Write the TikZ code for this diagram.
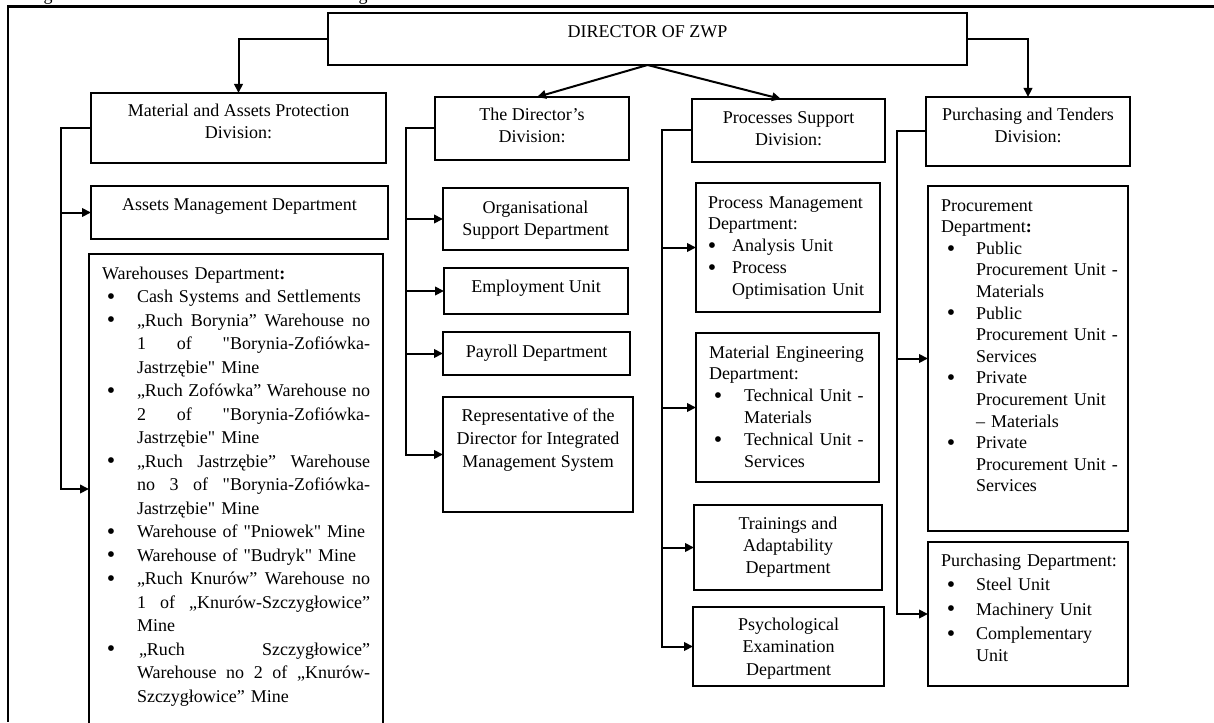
\documentclass[tikz,border=0pt]{standalone}
\usepackage{fontspec}
\setmainfont{Liberation Serif}[Ligatures=TeXOff]
\usetikzlibrary{arrows.meta}

% helpers for the left-aligned bullet lists
\newlength\bpos
\newlength\tpos
\newcommand\bigdot{\raisebox{-1.8pt}{\fontsize{24}{24}\selectfont\textbullet}}
\newcommand\rowhead[1]{\noindent\strut#1\par}
\newcommand\rowitem[1]{\noindent\strut\makebox[\tpos][l]{\hspace*{\bpos}\makebox[0pt]{\bigdot}}#1\par}
\newcommand\rowcont[1]{\noindent\strut\hspace*{\tpos}#1\par}
% a justified line: the word spaces share the free room equally
\newcommand\rowjust[1]{\hbox to 233pt{\spaceskip=\fontdimen2\font plus 1fil\relax #1}}

% box from (x1,y1) to (x2,y2), y measured downwards
\newcommand\mkbox[5]{\node[bx, anchor=north west, minimum width={#4pt-#2pt}, minimum height={#5pt-#3pt}] (#1) at (#2,#3) {};}
% centred label: name, centre x, first baseline, line spacing, text
\newcommand\ctext[5]{\node[lbl=#4, anchor=north] (#1) at (#2,{#3-0.7*#4}) {\strut #5};}
% list label: name, left x, first baseline, line spacing, width, bullet pos, text pos, lines
\newcommand\ltext[8]{\node[lst=#4, text width=#5pt] (#1) at (#2,{#3-0.7*#4}) {\setlength\bpos{#6pt}\setlength\tpos{#7pt}#8};}

\begin{document}
\begin{tikzpicture}[x=1pt,y=-1pt,
  bx/.style={draw=black, line width=1.3pt, inner sep=0pt, outer sep=0pt},
  wire/.style={line width=2pt, line join=miter},
  conn/.style={wire, -{Triangle[length=9pt,width=8.5pt]}},
  lbl/.style={inner sep=0pt, outer sep=0pt, align=center, font=\fontsize{18}{#1}\selectfont},
  lst/.style={inner sep=0pt, outer sep=0pt, anchor=north west, font=\fontsize{18}{#1}\selectfont},
  rule/.style={line width=2.4pt}]
\useasboundingbox (0,0) rectangle (1214,722);

% outer frame and the tails of the line above it
\draw[rule] (1214,6.5) -- (8,6.5) -- (8,722);
\begin{scope}
  \clip (0,0) rectangle (1214,5.3);
  \node[lbl=22, anchor=base] (fragA) at (48,0.2) {g};
  \node[lbl=22, anchor=base] (fragB) at (363,0.2) {g};
\end{scope}

% top level
\mkbox{dir}{328}{13}{967}{65}
\ctext{dirt}{647.5}{38}{22}{DIRECTOR OF ZWP}

% divisions
\mkbox{mat}{91}{93}{386}{163}
\ctext{matt}{238.5}{116.5}{22.5}{Material and Assets Protection\\Division:}
\mkbox{ddiv}{435}{97}{629}{160}
\ctext{ddivt}{532}{121}{22}{The Director’s\\Division:}
\mkbox{psd}{692}{99}{885}{162}
\ctext{psdt}{788.5}{124}{22}{Processes Support\\Division:}
\mkbox{pur}{926}{97}{1130}{166}
\ctext{purt}{1028}{121}{22}{Purchasing and Tenders\\Division:}

% material and assets protection
\mkbox{am}{91}{186}{388}{239}
\ctext{amt}{239.5}{210}{22}{Assets Management Department}
\mkbox{wh}{89}{254}{383}{724}
\ltext{wht}{102}{279}{23.5}{268}{9}{35}{%
  \rowhead{Warehouses Department\textbf{:}}
  \rowitem{Cash Systems and Settlements}
  \rowitem{\rowjust{„Ruch Borynia” Warehouse no}}
  \rowcont{\rowjust{1 of "Borynia-Zofiówka-}}
  \rowcont{Jastrzębie" Mine}
  \rowitem{\rowjust{„Ruch Zofówka” Warehouse no}}
  \rowcont{\rowjust{2 of "Borynia-Zofiówka-}}
  \rowcont{Jastrzębie" Mine}
  \rowitem{\rowjust{„Ruch Jastrzębie” Warehouse}}
  \rowcont{\rowjust{no 3 of "Borynia-Zofiówka-}}
  \rowcont{Jastrzębie" Mine}
  \rowitem{Warehouse of "Pniowek" Mine}
  \rowitem{Warehouse of "Budryk" Mine}
  \rowitem{\rowjust{„Ruch Knurów” Warehouse no}}
  \rowcont{\rowjust{1 of „Knurów-Szczygłowice”}}
  \rowcont{Mine}
  \rowitem{\rowjust{\kern2pt„Ruch Szczygłowice”}}
  \rowcont{\rowjust{Warehouse no 2 of „Knurów-}}
  \rowcont{Szczygłowice” Mine}}

% director's division
\mkbox{org}{443}{188}{628}{250}
\ctext{orgt}{535.5}{213}{22}{Organisational\\Support Department}
\mkbox{emp}{444}{268}{628}{314}
\ctext{empt}{536}{292}{22}{Employment Unit}
\mkbox{pay}{443}{332}{630}{375}
\ctext{payt}{536.5}{357}{22}{Payroll Department}
\mkbox{rep}{443}{397}{633}{512}
\ctext{rept}{538}{421}{23}{Representative of the\\Director for Integrated\\Management System}

% processes support division
\mkbox{pmd}{696}{183}{880}{312}
\ltext{pmdt}{708}{208}{21.8}{168}{4}{24}{%
  \rowhead{Process Management}
  \rowhead{Department:}
  \rowitem{Analysis Unit}
  \rowitem{Process}
  \rowcont{Optimisation Unit}}
\mkbox{med}{696}{333}{879}{482}
\ltext{medt}{709}{358}{21.8}{166}{9}{35}{%
  \rowhead{Material Engineering}
  \rowhead{Department:}
  \rowitem{Technical Unit -}
  \rowcont{Materials}
  \rowitem{Technical Unit -}
  \rowcont{Services}}
\mkbox{tad}{694}{505}{882}{590}
\ctext{tadt}{788}{529}{22}{Trainings and\\Adaptability\\Department}
\mkbox{ped}{693}{607}{884}{686}
\ctext{pedt}{788.5}{630}{22.5}{Psychological\\Examination\\Department}

% purchasing and tenders division
\mkbox{proc}{928}{186}{1128}{531}
\ltext{proct}{941}{211}{21.6}{180}{10}{35}{%
  \rowhead{Procurement}
  \rowhead{Department\textbf{:}}
  \rowitem{Public}
  \rowcont{Procurement Unit -}
  \rowcont{Materials}
  \rowitem{Public}
  \rowcont{Procurement Unit -}
  \rowcont{Services}
  \rowitem{Private}
  \rowcont{Procurement Unit}
  \rowcont{– Materials}
  \rowitem{Private}
  \rowcont{Procurement Unit -}
  \rowcont{Services}}
\mkbox{pdep}{928}{542}{1128}{686}
\ltext{pdept}{941}{566}{24.5}{180}{10}{35}{%
  \rowhead{Purchasing Department:}
  \rowitem{Steel Unit}
  \rowitem{Machinery Unit}
  \rowitem{Complementary}
  \vskip-2.8pt
  \rowcont{Unit}}

% connectors from the director
\draw[conn] (dir.west) -| (mat.north);
\draw[conn] (dir.east) -| (pur.north);
\draw[conn] (dir.south) -- ([xshift=5pt]ddiv.north);
\draw[conn] (dir.south) -- ([xshift=-7.5pt]psd.north);

% spines of the divisions
\coordinate (sA) at (61,0);
\coordinate (sB) at (406,0);
\coordinate (sC) at (662,0);
\coordinate (sD) at (897,0);

\draw[conn] (mat.west) -| (sA |- wh.west) -- (wh.west);
\draw[conn] (sA |- am.west) -- (am.west);

\draw[conn] (ddiv.west) -| (sB |- rep.west) -- (rep.west);
\foreach \n in {org,emp,pay} \draw[conn] (sB |- \n.west) -- (\n.west);

\draw[conn] (psd.west) -| (sC |- ped.west) -- (ped.west);
\foreach \n in {pmd,med,tad} \draw[conn] (sC |- \n.west) -- (\n.west);

\draw[conn] (pur.west) -| (sD |- pdep.west) -- (pdep.west);
\draw[conn] (sD |- proc.west) -- (proc.west);
\end{tikzpicture}
\end{document}
